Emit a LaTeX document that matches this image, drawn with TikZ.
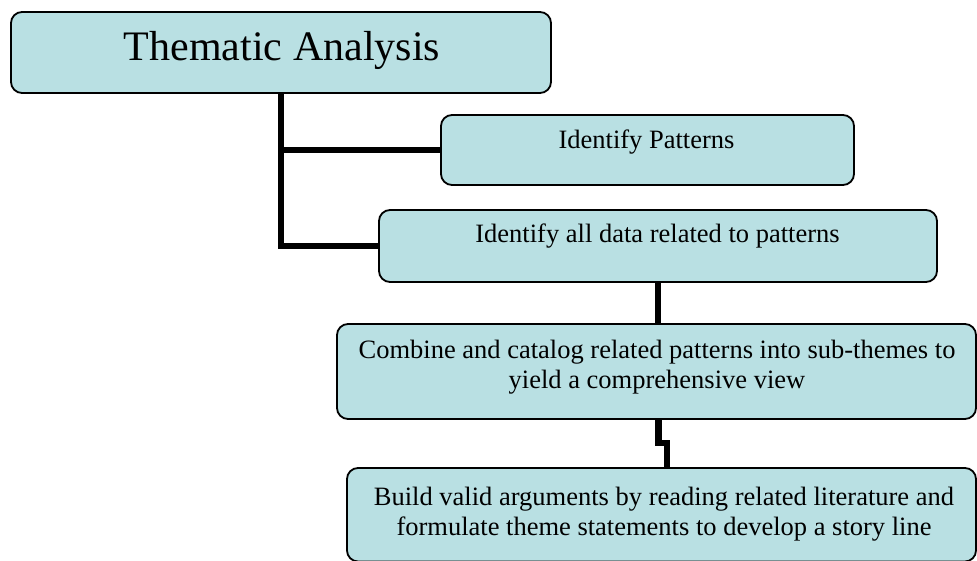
\documentclass[tikz,border=0pt]{standalone}
\usepackage{fontspec}
\setmainfont{Liberation Serif}
\definecolor{boxfill}{RGB}{185,224,227}
\begin{document}
\begin{tikzpicture}[x=1pt,y=-1pt,
  box/.style={draw=black, line width=1.8pt, fill=boxfill, rounded corners=11pt, inner sep=0pt, outer sep=0pt},
  conn/.style={line width=6.5pt, draw=black, line join=miter},
  bigtxt/.style={font=\fontsize{42}{48}\selectfont, anchor=base, inner sep=0pt},
  txt/.style={font=\fontsize{26.5}{30}\selectfont, anchor=base, inner sep=0pt, align=center}]
\useasboundingbox (0,0) rectangle (977,561);
% boxes
\node[box, minimum width=540pt, minimum height=81pt] (b1) at (281,52.5) {};
\node[box, minimum width=413pt, minimum height=70pt] (b2) at (647.5,150) {};
\node[box, minimum width=558pt, minimum height=72pt] (b3) at (658,246) {};
\node[box, minimum width=639pt, minimum height=95pt] (b4) at (656.5,371.5) {};
\node[box, minimum width=629pt, minimum height=93.5pt] (b5) at (661.5,514.75) {};
% texts
\node[bigtxt] (t1) at (282,61) {Thematic Analysis};
\node[txt] (t2) at (646.5,149) {Identify Patterns};
\node[txt] (t3) at (657.5,243) {Identify all data related to patterns};
\node[txt] (t4) at (657,388) {Combine and catalog related patterns into sub-themes to\\yield a comprehensive view};
\node[txt] (t5) at (664,535) {Build valid arguments by reading related literature and\\formulate theme statements to develop a story line};
% connectors
\coordinate (j1) at (667,443);
\draw[conn] (b1.south) |- (b2.west);
\draw[conn] (b1.south) |- (b3.west);
\draw[conn] (b3.south -| b3.center) -- (b3.south |- b4.north);
\draw[conn] (b4.south -| 658.5,0) |- (j1) -- (j1 |- b5.north);
\end{tikzpicture}
\end{document}
